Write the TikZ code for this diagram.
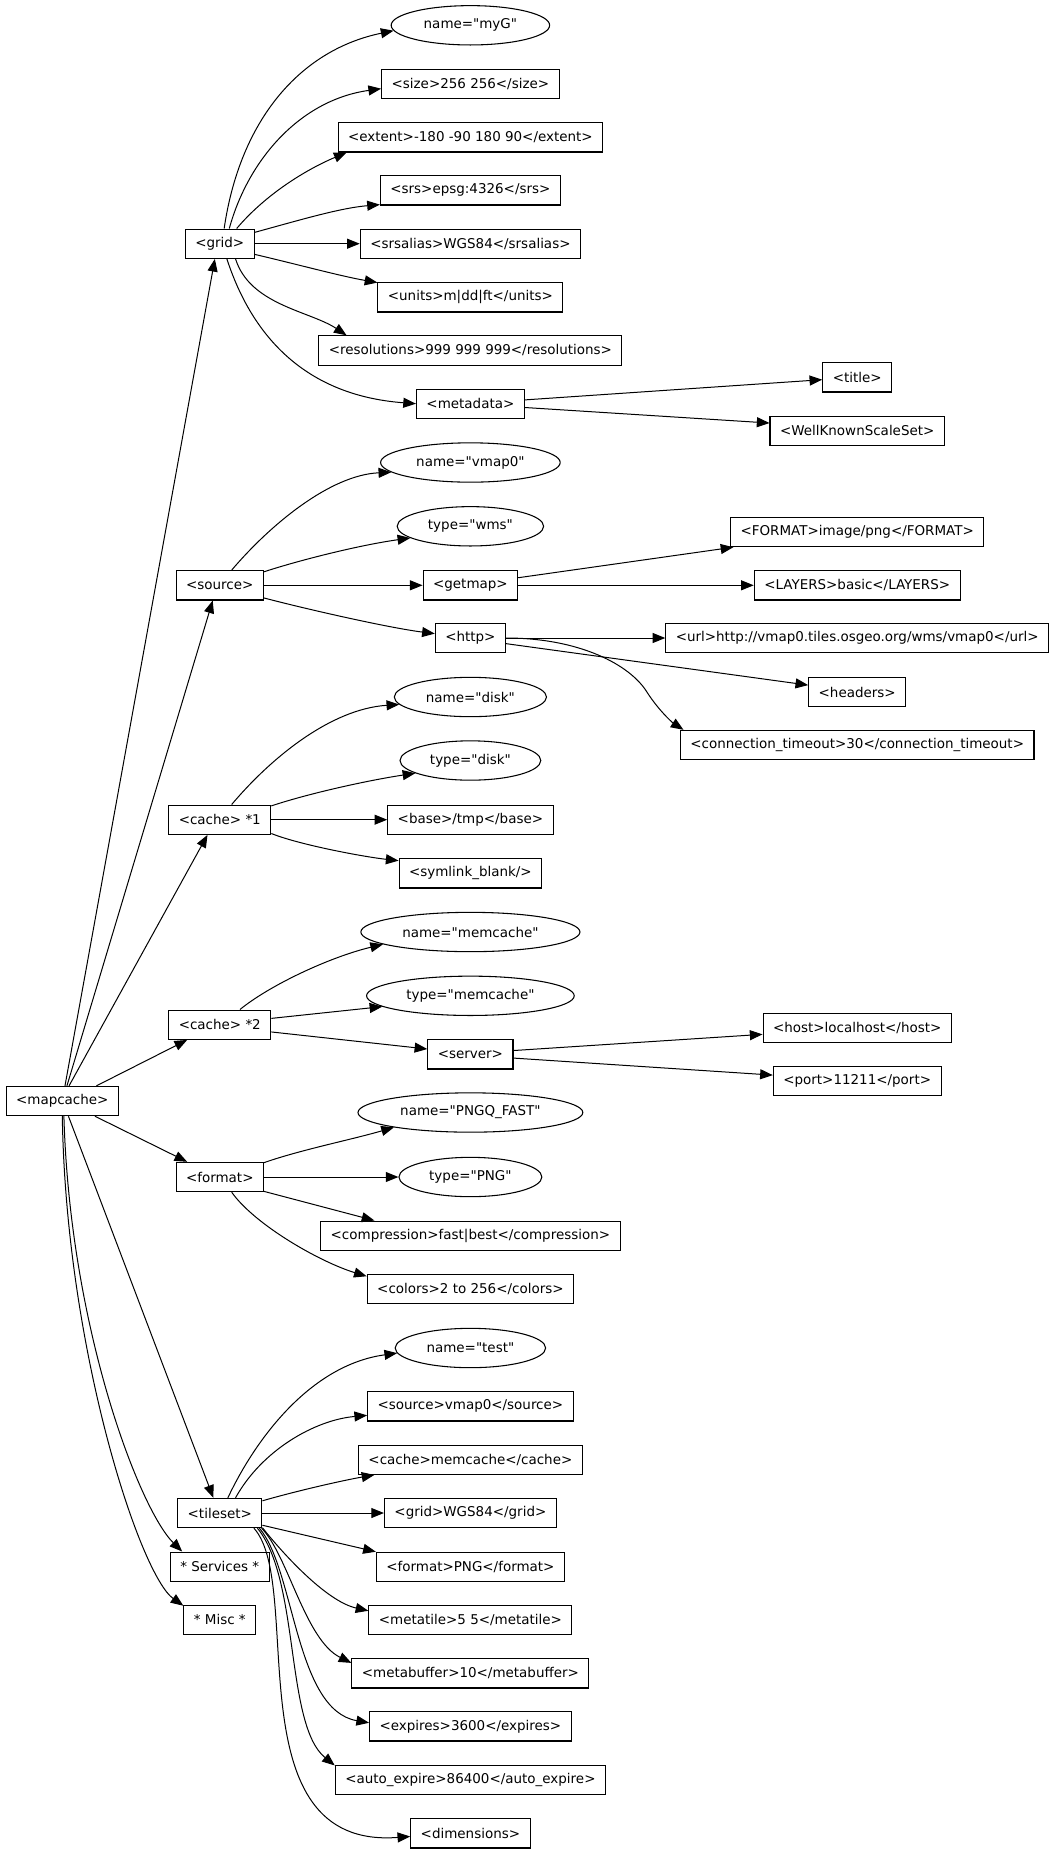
\documentclass[tikz,border=0pt]{standalone}
\usepackage{fontspec}
\setmainfont{DejaVu Sans}[Ligatures=TeXOff]
\usetikzlibrary{arrows.meta,shapes.geometric}
\tikzset{
  elem/.style={draw,rectangle,line width=0.8pt,fill=white,
    font=\fontsize{10.1}{12}\selectfont,inner xsep=7.5pt,inner ysep=0pt,minimum height=22pt},
  attrib/.style={elem,ellipse,inner xsep=7pt,minimum height=29.5pt},
  link/.style={-{Triangle[length=9.5pt,width=7.5pt]},line width=0.75pt},
}
\begin{document}
\begin{tikzpicture}[x=0.75pt,y=-0.75pt]
  \useasboundingbox (0,0) rectangle (1051,1853);
  % root and its children
  \node[elem] (mapcache) at (62.3,1101) {<mapcache>};
  \node[elem] (grid) at (219.8,243.7) {<grid>};
  \node[elem] (source) at (219.8,585.3) {<source>};
  \node[elem] (cacheA) at (219.8,819.7) {<cache> *1};
  \node[elem] (cacheB) at (219.8,1024.7) {<cache> *2};
  \node[elem] (format) at (219.8,1177) {<format>};
  \node[elem] (tileset) at (219.8,1513) {<tileset>};
  \node[elem] (services) at (219.8,1566.7) {* Services *};
  \node[elem] (misc) at (219.8,1619.7) {* Misc *};
  % grid
  \node[attrib] (gname) at (470.4,25.3) {name="myG"};
  \node[elem] (gsize) at (470.4,84) {<size>256 256</size>};
  \node[elem] (gextent) at (470.4,137.3) {<extent>-180 -90 180 90</extent>};
  \node[elem] (gsrs) at (470.4,190.3) {<srs>epsg:4326</srs>};
  \node[elem] (gsrsalias) at (470.4,243.7) {<srsalias>WGS84</srsalias>};
  \node[elem] (gunits) at (470.4,297.3) {<units>m|dd|ft</units>};
  \node[elem] (gres) at (470.4,350.5) {<resolutions>999 999 999</resolutions>};
  \node[elem] (gmeta) at (470.4,403.7) {<metadata>};
  \node[elem] (mtitle) at (857.2,377.3) {<title>};
  \node[elem] (mwkss) at (857.2,430.7) {<WellKnownScaleSet>};
  % source
  \node[attrib] (sname) at (470.4,462.5) {name="vmap0"};
  \node[attrib] (stype) at (470.4,526.3) {type="wms"};
  \node[elem] (getmap) at (470.4,585.3) {<getmap>};
  \node[elem] (http) at (470.4,638) {<http>};
  \node[elem] (gmformat) at (857.2,532) {<FORMAT>image/png</FORMAT>};
  \node[elem] (gmlayers) at (857.2,585.3) {<LAYERS>basic</LAYERS>};
  \node[elem] (hurl) at (857.2,638) {<url>http://vmap0.tiles.osgeo.org/wms/vmap0</url>};
  \node[elem] (hheaders) at (857.2,692) {<headers>};
  \node[elem] (htimeout) at (857.2,745) {<connection\_timeout>30</connection\_timeout>};
  % cache 1
  \node[attrib] (caname) at (470.4,697) {name="disk"};
  \node[attrib] (catype) at (470.4,760.5) {type="disk"};
  \node[elem] (cabase) at (470.4,819.7) {<base>/tmp</base>};
  \node[elem] (casymlink) at (470.4,873.3) {<symlink\_blank/>};
  % cache 2
  \node[attrib] (cbname) at (470.4,932) {name="memcache"};
  \node[attrib] (cbtype) at (470.4,995.8) {type="memcache"};
  \node[elem] (server) at (470.4,1054.3) {<server>};
  \node[elem] (shost) at (857.2,1027.7) {<host>localhost</host>};
  \node[elem] (sport) at (857.2,1081) {<port>11211</port>};
  % format
  \node[attrib] (fname) at (470.4,1112.5) {name="PNGQ\_FAST"};
  \node[attrib] (ftype) at (470.4,1177) {type="PNG"};
  \node[elem] (fcomp) at (470.4,1235.7) {<compression>fast|best</compression>};
  \node[elem] (fcolors) at (470.4,1289) {<colors>2 to 256</colors>};
  % tileset
  \node[attrib] (tname) at (470.4,1348) {name="test"};
  \node[elem] (tsource) at (470.4,1406.3) {<source>vmap0</source>};
  \node[elem] (tcache) at (470.4,1459.7) {<cache>memcache</cache>};
  \node[elem] (tgrid) at (470.4,1513) {<grid>WGS84</grid>};
  \node[elem] (tformat) at (470.4,1566.7) {<format>PNG</format>};
  \node[elem] (tmetatile) at (470.4,1619.7) {<metatile>5 5</metatile>};
  \node[elem] (tmetabuffer) at (470.4,1673.3) {<metabuffer>10</metabuffer>};
  \node[elem] (texpires) at (470.4,1726.3) {<expires>3600</expires>};
  \node[elem] (tautoexp) at (470.4,1779.7) {<auto\_expire>86400</auto\_expire>};
  \node[elem] (tdims) at (470.4,1833.3) {<dimensions>};
  % edges from the root
  \draw[link] (mapcache.80) -- (grid.252);
  \draw[link] (mapcache.73) -- (source.245);
  \draw[link] (mapcache.66) -- (cacheA.231);
  \draw[link] (mapcache.24) -- (cacheB.205);
  \draw[link] (mapcache.-25) -- (format.155);
  \draw[link] (mapcache.-68) -- (tileset.113);
  \draw[link] (mapcache.-84) .. controls (70,1330) and (140,1510) .. (services.158);
  \draw[link] (mapcache.-90) .. controls (66,1350) and (140,1575) .. (misc.159);
  % grid
  \draw[link] (grid.74) .. controls (240,120) and (300,50) .. (gname.184);
  \draw[link] (grid.58) .. controls (248,160) and (300,100) .. (gsize.183);
  \draw[link] (grid.42) .. controls (265,195) and (305,170) .. (gextent.187);
  \draw[link] (grid.18) .. controls (300,220) and (340,208) .. (gsrs.189);
  \draw[link] (grid) -- (gsrsalias);
  \draw[link] (grid.-17) .. controls (300,265) and (340,276) .. (gunits.171);
  \draw[link] (grid.-44) .. controls (250,305) and (310,311) .. (gres.173);
  \draw[link] (grid.-65) .. controls (250,330) and (300,395) .. (gmeta.west);
  \draw[link] (gmeta.4) -- (mtitle);
  \draw[link] (gmeta.-4) -- (mwkss.175);
  % source
  \draw[link] (source.52) .. controls (270,525) and (330,475) .. (sname.187);
  \draw[link] (source.17) .. controls (300,560) and (360,545) .. (stype.191);
  \draw[link] (source) -- (getmap);
  \draw[link] (source.-16) .. controls (310,610) and (390,628) .. (http.173);
  \draw[link] (getmap.9) -- (gmformat.187);
  \draw[link] (getmap) -- (gmlayers);
  \draw[link] (http) -- (hurl);
  \draw[link] (http.-9) -- (hheaders.172);
  \draw[link] (http.east) .. controls (580,638) and (630,665) .. (646.7,691.7)
    .. controls (659,711) and (673,723) .. (htimeout.175);
  % cache 1
  \draw[link] (cacheA.52) .. controls (270,759) and (330,709) .. (caname.186);
  \draw[link] (cacheA.15) .. controls (310,793) and (370,780) .. (catype.193);
  \draw[link] (cacheA) -- (cabase);
  \draw[link] (cacheA.-15) .. controls (300,845) and (365,857) .. (casymlink.170);
  % cache 2
  \draw[link] (cacheB.37) .. controls (270,985) and (330,957) .. (cbname.188);
  \draw[link] (cacheB.7) -- (cbtype.187);
  \draw[link] (cacheB.-8) -- (server.173);
  \draw[link] (server.5) -- (shost.184);
  \draw[link] (server.-5) -- (sport.176);
  % format
  \draw[link] (format.18) .. controls (300,1150) and (350,1140) .. (fname.191);
  \draw[link] (format) -- (ftype);
  \draw[link] (format.-18) -- (fcomp.171);
  \draw[link] (format.-52) .. controls (255,1225) and (320,1262) .. (fcolors.173);
  % tileset
  \draw[link] (tileset.62) .. controls (255,1440) and (310,1365) .. (tname.184);
  \draw[link] (tileset.44) .. controls (262,1450) and (315,1420) .. (tsource.185);
  \draw[link] (tileset.16) .. controls (300,1490) and (345,1480) .. (tcache.189);
  \draw[link] (tileset) -- (tgrid);
  \draw[link] (tileset.-16) -- (tformat.171);
  \draw[link] (tileset.-19) .. controls (280,1550) and (325,1601) .. (tmetatile.175);
  \draw[link] (tileset.-20) .. controls (288,1555) and (305,1640) .. (tmetabuffer.175);
  \draw[link] (tileset.-21) .. controls (295,1570) and (295,1710) .. (texpires.178);
  \draw[link] (tileset.-22) .. controls (300,1580) and (285,1725) .. (tautoexp.174);
  \draw[link] (tileset.-24) .. controls (305,1585) and (232,1850) .. (tdims.183);
\end{tikzpicture}
\end{document}
